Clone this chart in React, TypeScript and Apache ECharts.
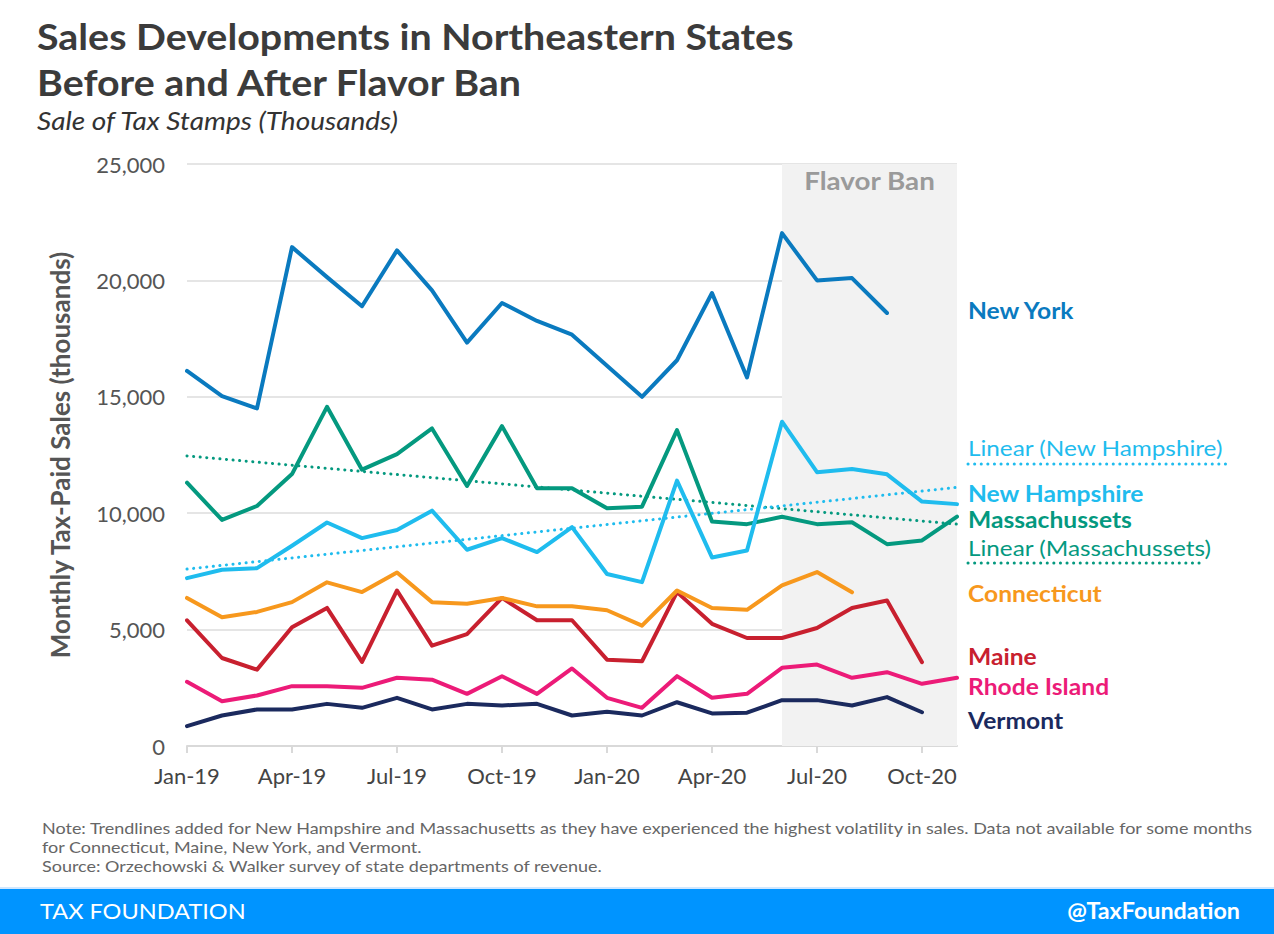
import React, { useEffect, useRef } from "react";
import * as echarts from "echarts";

const months = [
  "Jan-19","Feb-19","Mar-19","Apr-19","May-19","Jun-19","Jul-19","Aug-19","Sep-19","Oct-19","Nov-19","Dec-19",
  "Jan-20","Feb-20","Mar-20","Apr-20","May-20","Jun-20","Jul-20","Aug-20","Sep-20","Oct-20","Nov-20",
];

const newYork = [16110,15030,14500,21430,20140,18890,21290,19570,17330,19030,18260,17670,16330,15000,16570,19460,15830,22030,20000,20100,18600,null,null];
const massachusetts = [11310,9710,10310,11680,14570,11870,12540,13640,11170,13740,11070,11070,10210,10280,13570,9640,9530,9850,9530,9610,8670,8830,9850];
const newHampshire = [7210,7570,7640,8600,9600,8930,9280,10110,8430,8930,8330,9400,7390,7040,11400,8100,8400,13930,11760,11900,11670,10500,10390];
const connecticut = [6360,5530,5760,6180,7030,6610,7450,6180,6110,6360,6000,6000,5830,5170,6680,5930,5850,6900,7470,6600,null,null,null];
const maine = [5400,3780,3280,5100,5930,3610,6680,4310,4810,6360,5400,5400,3710,3640,6610,5250,4640,4640,5070,5930,6250,3600,null];
const rhodeIsland = [2760,1920,2170,2570,2570,2500,2930,2850,2240,3000,2240,3330,2070,1640,3000,2070,2240,3360,3500,2930,3170,2670,2930];
const vermont = [850,1310,1570,1570,1810,1640,2070,1570,1810,1740,1810,1310,1470,1310,1880,1400,1430,1970,1970,1740,2100,1450,null];

// trendline end values (Jan-19 and Nov-20)
const trendNH = [7600, 11110];
const trendMA = [12460, 9530];

const flavorBan = ["Jun-20", "Nov-20"];
const yTicks = { min: 0, max: 25000, interval: 5000 };

const C = {
  ny: "#0a7abf",
  nh: "#1fbcee",
  ma: "#04997f",
  ct: "#f7981d",
  me: "#c8202f",
  ri: "#ec1b78",
  vt: "#1b2a5e",
};

const FONT = "Lato, 'Noto Sans', sans-serif";

function endpoints(pair: number[]) {
  return months.map((_, i) => (i === 0 ? pair[0] : i === months.length - 1 ? pair[1] : null));
}

export default function App() {
  const ref = useRef<HTMLDivElement>(null);
  useEffect(() => {
    document.body.style.margin = "0";
    const chart = echarts.init(ref.current!, null, { renderer: "svg" });
    const lineS = (name: string, data: any[], color: string, z = 3) => ({
      name,
      type: "line",
      data,
      symbol: "none",
      z,
      lineStyle: { color, width: 4, join: "round", cap: "round" },
      itemStyle: { color },
    });
    const trendS = (name: string, data: any[], color: string) => ({
      name,
      type: "line",
      data,
      symbol: "none",
      connectNulls: true,
      z: 2,
      lineStyle: { color, width: 3, type: [0.1, 6.5], cap: "round" },
      itemStyle: { color },
    });
    const labels: any[] = [
      { t: "New York", y: 311, c: C.ny, b: true },
      { t: "Linear (New Hampshire)", y: 447, c: C.nh, b: false },
      { t: "New Hampshire", y: 494, c: C.nh, b: true },
      { t: "Massachussets", y: 520, c: C.ma, b: true },
      { t: "Linear (Massachussets)", y: 547, c: C.ma, b: false },
      { t: "Connecticut", y: 594, c: C.ct, b: true },
      { t: "Maine", y: 657, c: C.me, b: true },
      { t: "Rhode Island", y: 687, c: C.ri, b: true },
      { t: "Vermont", y: 721, c: C.vt, b: true },
    ];
    const graphic: any[] = [
      {
        type: "text",
        x: 37,
        y: 13,
        scaleX: 1.094,
        style: {
          text: "Sales Developments in Northeastern States\nBefore and After Flavor Ban",
          font: `bold 36px ${FONT}`,
          fill: "#3b3b3b",
          lineHeight: 46,
          verticalAlign: "top",
        },
      },
      {
        type: "text",
        x: 37,
        y: 121,
        scaleX: 1.12,
        style: {
          text: "Sale of Tax Stamps (Thousands)",
          font: `italic 25px ${FONT}`,
          fill: "#333",
          verticalAlign: "middle",
        },
      },
      {
        type: "text",
        x: 869.5,
        y: 181,
        scaleX: 1.11,
        z: 5,
        style: {
          text: "Flavor Ban",
          font: `bold 25px ${FONT}`,
          fill: "#9a9a9a",
          align: "center",
          verticalAlign: "middle",
        },
      },
      ...labels.map((l) => ({
        type: "text",
        x: 968,
        y: l.y,
        scaleX: l.b ? 1.12 : 1.105,
        style: {
          text: l.t,
          font: `${l.b ? "bold" : "normal"} 22px ${FONT}`,
          fill: l.c,
          verticalAlign: "middle",
          align: "left",
        },
      })),
      {
        type: "line",
        shape: { x1: 968, y1: 464, x2: 1226, y2: 464 },
        style: { stroke: C.nh, lineWidth: 3, lineDash: [0.1, 6.5], lineCap: "round" },
      },
      {
        type: "line",
        shape: { x1: 968, y1: 563, x2: 1203, y2: 563 },
        style: { stroke: C.ma, lineWidth: 3, lineDash: [0.1, 6.5], lineCap: "round" },
      },
      {
        type: "text",
        x: 42,
        y: 818,
        scaleX: 1.124,
        style: {
          text:
            "Note: Trendlines added for New Hampshire and Massachusetts as they have experienced the highest volatility in sales. Data not available for some months\nfor Connecticut, Maine, New York, and Vermont.\nSource: Orzechowski & Walker survey of state departments of revenue.",
          font: `16px ${FONT}`,
          fill: "#666",
          lineHeight: 19,
          verticalAlign: "top",
        },
      },
      { type: "rect", shape: { x: 0, y: 888, width: 1274, height: 46 }, style: { fill: "#0094ff" } },
      { type: "rect", shape: { x: 0, y: 887, width: 1274, height: 2 }, style: { fill: "#cfe7ff" } },
      {
        type: "text",
        x: 40,
        y: 911,
        scaleX: 1.07,
        style: { text: "TAX FOUNDATION", font: `22px ${FONT}`, fill: "#fff", verticalAlign: "middle" },
      },
      {
        type: "text",
        x: 1240,
        y: 911,
        scaleX: 1.06,
        style: {
          text: "@TaxFoundation",
          font: `bold 22px ${FONT}`,
          fill: "#fff",
          verticalAlign: "middle",
          align: "right",
        },
      },
    ];
    chart.setOption({
      animation: false,
      backgroundColor: "#fff",
      textStyle: { fontFamily: FONT },
      grid: { left: 187, right: 317, top: 164, bottom: 188 },
      xAxis: {
        type: "category",
        data: months,
        boundaryGap: false,
        axisLine: { lineStyle: { color: "#d9d9d9", width: 2 } },
        axisTick: { show: true, interval: 2, length: 7, lineStyle: { color: "#d9d9d9", width: 2 } },
        axisLabel: { interval: 2, fontSize: 22, color: "#444", margin: 18, fontFamily: FONT },
        splitLine: { show: false },
      },
      yAxis: {
        type: "value",
        min: yTicks.min,
        max: yTicks.max,
        interval: yTicks.interval,
        name: "Monthly Tax-Paid Sales (thousands)",
        nameLocation: "middle",
        nameGap: 114,
        nameTextStyle: { fontSize: 26, fontWeight: "bold", color: "#555", fontFamily: FONT },
        axisLine: { show: false },
        axisTick: { show: false },
        axisLabel: {
          fontSize: 22,
          color: "#555",
          margin: 22,
          fontFamily: FONT,
          formatter: (v: number) => v.toLocaleString("en-US"),
        },
        splitLine: { lineStyle: { color: "#dcdcdc", width: 1.5 } },
      },
      series: [
        {
          name: "Flavor Ban",
          type: "line",
          data: [],
          z: 1,
          markArea: {
            silent: true,
            itemStyle: { color: "#f2f2f2" },
            label: { show: false },
            data: [[{ xAxis: flavorBan[0] }, { xAxis: flavorBan[1] }]],
          },
        },
        trendS("Linear (Massachussets)", endpoints(trendMA), C.ma),
        trendS("Linear (New Hampshire)", endpoints(trendNH), C.nh),
        lineS("Vermont", vermont, C.vt),
        lineS("Rhode Island", rhodeIsland, C.ri),
        lineS("Maine", maine, C.me),
        lineS("Connecticut", connecticut, C.ct),
        lineS("Massachussets", massachusetts, C.ma),
        lineS("New Hampshire", newHampshire, C.nh),
        lineS("New York", newYork, C.ny),
      ],
      graphic,
    });
    return () => chart.dispose();
  }, []);
  return <div ref={ref} style={{ width: 1274, height: 934 }} />;
}
